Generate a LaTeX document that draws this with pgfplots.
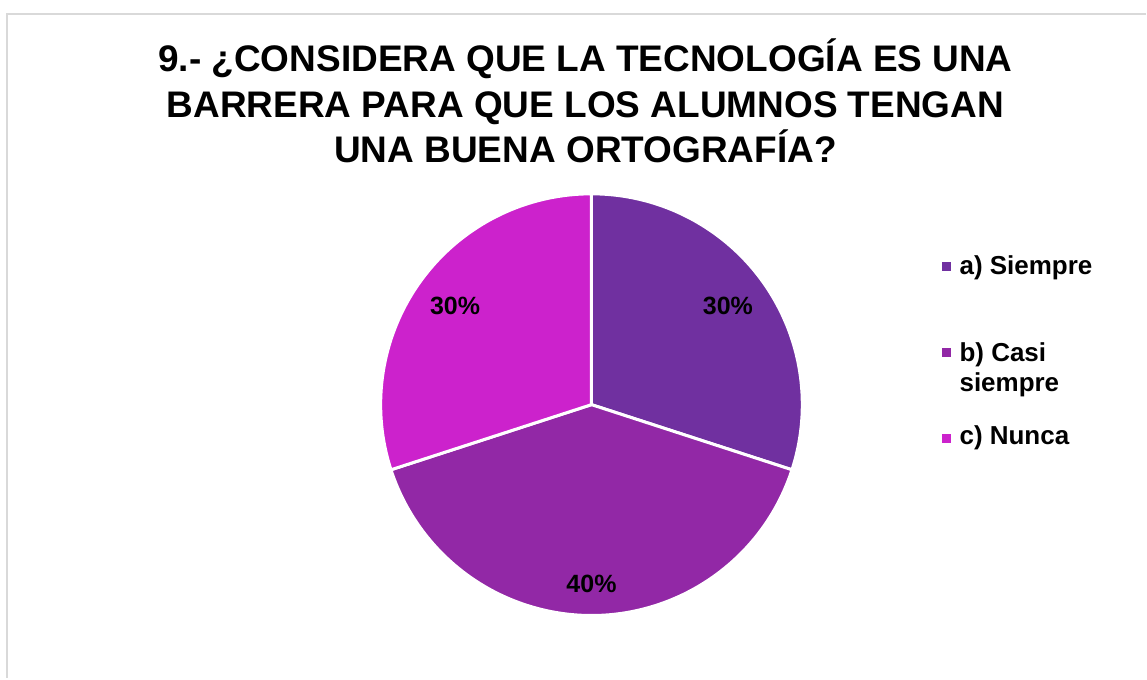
\documentclass[border=0pt]{standalone}
\usepackage{fontspec}
\setmainfont{Liberation Sans}
\usepackage{pgfplots}
\usepackage{pgfplotstable}
\pgfplotsset{compat=1.18}
\definecolor{sliceA}{RGB}{112,48,160}
\definecolor{sliceB}{RGB}{146,40,166}
\definecolor{sliceC}{RGB}{204,34,204}
\definecolor{frameGray}{RGB}{217,217,217}

% porcentajes de cada respuesta
\pgfplotstableread{
key value color dist
a 30 sliceA 0.80
b 40 sliceB 0.85
c 30 sliceC 0.80
}\piedata

\begin{document}
\begin{tikzpicture}
\begin{axis}[
  x=0.5pt, y=0.5pt,
  xmin=0, xmax=1147, ymin=0, ymax=679,
  hide axis, clip=false]
\path (axis cs:0,0) rectangle (axis cs:1147,679);
% marco
\draw[frameGray, line width=1pt] (axis cs:1147,665) -- (axis cs:7,665) -- (axis cs:7,0);
% titulo
\node[anchor=base, font=\bfseries\fontsize{18.5}{22}\selectfont] at (axis cs:586,607)
  {9.- ¿CONSIDERA QUE LA TECNOLOGÍA ES UNA};
\node[anchor=base, font=\bfseries\fontsize{18.5}{22}\selectfont] at (axis cs:586,561)
  {BARRERA PARA QUE LOS ALUMNOS TENGAN};
\node[anchor=base, font=\bfseries\fontsize{18.5}{22}\selectfont] at (axis cs:586,516)
  {UNA BUENA ORTOGRAFÍA?};
% pastel
\def\angstart{90}
\pgfplotsforeachungrouped \i in {0,1,2}{
  \pgfplotstablegetelem{\i}{value}\of\piedata \let\v\pgfplotsretval
  \pgfplotstablegetelem{\i}{color}\of\piedata \let\c\pgfplotsretval
  \pgfplotstablegetelem{\i}{dist}\of\piedata \let\d\pgfplotsretval
  \pgfmathsetmacro\angend{\angstart-3.6*\v}
  \pgfmathsetmacro\angmid{(\angstart+\angend)/2}
  \pgfmathsetmacro\lx{592+211*\d*cos(\angmid)}
  \pgfmathsetmacro\ly{274+211*\d*sin(\angmid)}
  \edef\temp{%
    \noexpand\fill[\c, draw=white, line width=1.5pt] (axis cs:592,274) -- ++(\angstart:105.5pt)
      arc[start angle=\angstart, end angle=\angend, radius=105.5pt] -- cycle;
    \noexpand\node[font=\noexpand\bfseries\noexpand\fontsize{12.5}{14}\noexpand\selectfont]
      at (axis cs:\lx,\ly) {\v\noexpand\%};
  }
  \temp
  \global\let\angstart\angend
}
% leyenda
\fill[sliceA] (axis cs:943,408) rectangle (axis cs:952,417);
\fill[sliceB] (axis cs:943,322) rectangle (axis cs:952,331);
\fill[sliceC] (axis cs:943,236) rectangle (axis cs:952,245);
\node[anchor=base west, inner sep=0pt, font=\bfseries\fontsize{13}{15}\selectfont] at (axis cs:960,404) {a) Siempre};
\node[anchor=base west, inner sep=0pt, font=\bfseries\fontsize{13}{15}\selectfont] at (axis cs:960,317) {b) Casi};
\node[anchor=base west, inner sep=0pt, font=\bfseries\fontsize{13}{15}\selectfont] at (axis cs:960,287) {siempre};
\node[anchor=base west, inner sep=0pt, font=\bfseries\fontsize{13}{15}\selectfont] at (axis cs:960,234) {c) Nunca};
\end{axis}
\end{tikzpicture}
\end{document}
